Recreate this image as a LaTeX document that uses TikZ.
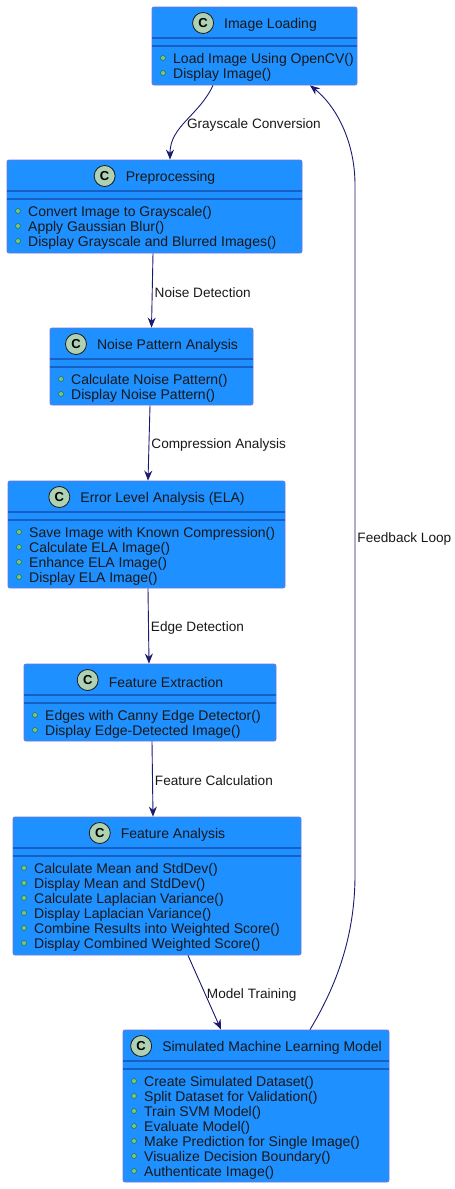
\documentclass[tikz,border=0pt]{standalone}
\usepackage{fontspec}
\setmainfont{Liberation Sans}
\usetikzlibrary{arrows.meta,positioning,fit}

\definecolor{boxfill}{RGB}{30,144,255}
\definecolor{boxline}{RGB}{110,120,225}
\definecolor{sepcol}{RGB}{22,96,196}
\definecolor{spotfill}{RGB}{173,209,178}
\definecolor{bulletfill}{RGB}{132,190,132}
\definecolor{bulletline}{RGB}{3,128,72}
\definecolor{arrowcol}{RGB}{26,26,110}
\definecolor{textcol}{RGB}{24,24,24}

% name, left, top, right, bottom, title, methods
\newcommand{\umlclass}[7]{%
  \coordinate (#1-nw) at (#2,#3);
  \coordinate (#1-se) at (#4,#5);
  \node[classbox, fit=(#1-nw)(#1-se)] (#1) {};
  \draw[sepline] (#2,#3+31) -- (#4,#3+31);
  \draw[sepline] (#2,#3+39) -- (#4,#3+39);
  \node[classtitle] (#1-title) at ({(#2+#4)/2+16},#3+18) {#6};
  \node[spot, left=10pt of #1-title, yshift=2pt] (#1-spot) {C};
  \foreach \m [count=\i from 0] in {#7} {
    \node[bullet] (#1-b\i) at (#2+11,#3+51+15*\i) {};
    \node[method] (#1-m\i) at (#2+21,#3+53+15*\i) {\m};
  }
}

\begin{document}
\begin{tikzpicture}[x=1pt, y=-1pt,
    classbox/.style={draw=boxline, line width=0.8pt, fill=boxfill, rounded corners=2pt, inner sep=0pt},
    sepline/.style={draw=sepcol, line width=1.2pt},
    classtitle/.style={inner sep=0pt, text=textcol, font=\fontsize{14pt}{16pt}\selectfont},
    spot/.style={circle, draw=textcol, line width=0.8pt, fill=spotfill, minimum size=21pt, inner sep=0pt, font=\fontsize{13pt}{15pt}\selectfont\bfseries},
    bullet/.style={circle, draw=bulletline, line width=0.5pt, fill=bulletfill, minimum size=5pt, inner sep=0pt},
    method/.style={anchor=west, inner sep=0pt, text=textcol, font=\fontsize{14pt}{16pt}\selectfont},
    flow/.style={draw=arrowcol, line width=0.9pt, -{Stealth[length=10pt,width=8pt]}},
    elabel/.style={text=textcol, inner sep=2pt, yshift=-2pt, font=\fontsize{13.6pt}{15pt}\selectfont}]
    \useasboundingbox (0,0) rectangle (455,1189);

    \umlclass{loading}{152}{7}{357}{85}{Image Loading}{Load Image Using OpenCV(),Display Image()}
    \umlclass{prep}{7}{160}{302}{253}{Preprocessing}{Convert Image to Grayscale(),Apply Gaussian Blur(),Display Grayscale and Blurred Images()}
    \umlclass{noise}{50}{328}{253}{405}{Noise Pattern Analysis}{Calculate Noise Pattern(),Display Noise Pattern()}
    \umlclass{ela}{8}{481}{285}{588}{Error Level Analysis (ELA)}{Save Image with Known Compression(),Calculate ELA Image(),Enhance ELA Image(),Display ELA Image()}
    \umlclass{extract}{24}{664}{276}{741}{Feature Extraction}{Edges with Canny Edge Detector(),Display Edge-Detected Image()}
    \umlclass{analysis}{13}{817}{301}{955}{Feature Analysis}{Calculate Mean and StdDev(),Display Mean and StdDev(),Calculate Laplacian Variance(),Display Laplacian Variance(),Combine Results into Weighted Score(),Display Combined Weighted Score()}
    \umlclass{model}{123}{1030}{389}{1182}{Simulated Machine Learning Model}{Create Simulated Dataset(),Split Dataset for Validation(),Train SVM Model(),Evaluate Model(),Make Prediction for Single Image(),Visualize Decision Boundary(),Authenticate Image()}

    \draw[flow] ([xshift=-41.5pt]loading.south) to[out=-115, in=90] node[elabel, right, pos=0.53] {Grayscale Conversion} ([xshift=15.5pt]prep.north);
    \draw[flow] ([xshift=-1.5pt]prep.south) -- node[elabel, right] {Noise Detection} (noise.north);
    \draw[flow] ([xshift=-1.5pt]noise.south) -- node[elabel, right] {Compression Analysis} ([xshift=1.5pt]ela.north);
    \draw[flow] ([xshift=1.5pt]ela.south) -- node[elabel, right] {Edge Detection} ([xshift=-1pt]extract.north);
    \draw[flow] ([xshift=2pt]extract.south) -- node[elabel, right] {Feature Calculation} ([xshift=-4pt]analysis.north);
    \draw[flow] ([xshift=31pt]analysis.south) -- node[elabel, right] {Model Training} ([xshift=-35pt]model.north);
    \draw[flow] ([xshift=54pt]model.north) .. controls (340,980) and (355,930) .. (355,875)
        -- node[elabel, right, pos=0.49] {Feedback Loop} (355,185)
        .. controls (355,140) and (335,105) .. ([xshift=55.5pt]loading.south);
\end{tikzpicture}
\end{document}
